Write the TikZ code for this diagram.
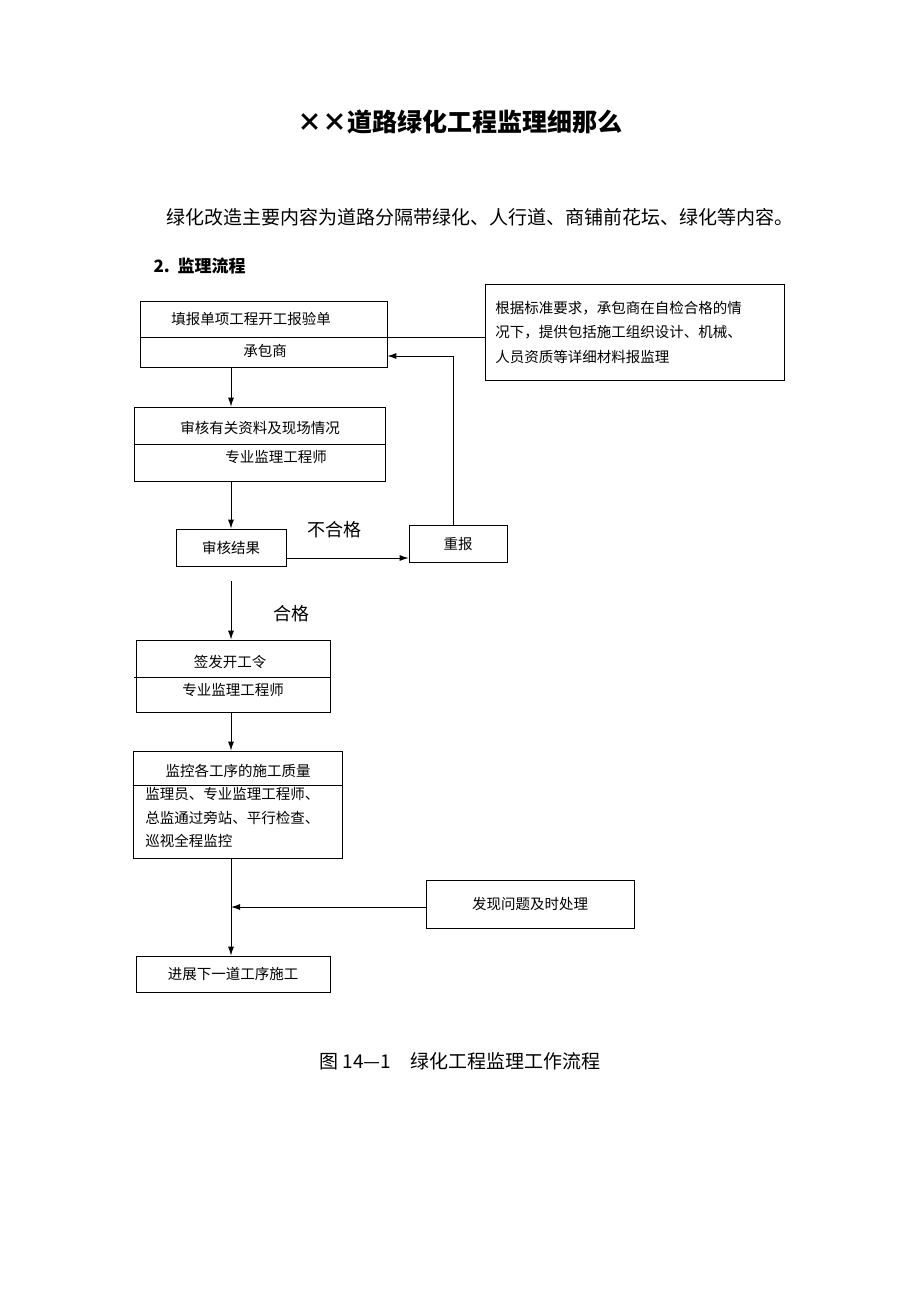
\documentclass[tikz,border=0pt]{standalone}
\usepackage{fontspec}
\setmainfont{Noto Sans CJK SC}
\usetikzlibrary{positioning,arrows.meta}
\tikzset{
  box/.style={draw, line width=0.8pt, inner sep=0pt, font=\fontsize{14.5}{17}\selectfont},
  flow/.style={-{Latex[length=9pt,width=6pt]}, line width=0.9pt},
  lbl/.style={font=\fontsize{18}{20}\selectfont}
}
\begin{document}
\begin{tikzpicture}[x=1pt,y=-1pt]
\useasboundingbox (0,0) rectangle (920,1302);
% heading and text
\node[font=\fontsize{25}{28}\selectfont\bfseries] (title) at (460,122) {××道路绿化工程监理细那么};
\node[anchor=west, font=\fontsize{19}{20}\selectfont] (intro) at (163,217) {绿化改造主要内容为道路分隔带绿化、人行道、商铺前花坛、绿化等内容。};
\node[anchor=west, font=\fontsize{17}{20}\selectfont\bfseries] (sec) at (150,266) {2.\ \ 监理流程};

% boxes
\node[box, minimum width=247pt, minimum height=66pt] (B1) at (263.5,334) {};
\node[box, draw=none] (B1t) at (251,319) {填报单项工程开工报验单};
\node[box, draw=none] (B1b) at (265,351) {承包商};
\node[box, minimum width=299pt, minimum height=96pt] (note) at (634.5,332) {};
\node[box, draw=none, anchor=west, align=left, font=\fontsize{14.5}{24.5}\selectfont] (notet) at (495,332) {根据标准要求，承包商在自检合格的情\\况下，提供包括施工组织设计、机械、\\人员资质等详细材料报监理};
\node[box, minimum width=251pt, minimum height=74pt] (B2) at (259.5,444) {};
\node[box, draw=none] (B2t) at (260,428) {审核有关资料及现场情况};
\node[box, draw=none] (B2b) at (276,457) {专业监理工程师};
\node[box, minimum width=110pt, minimum height=37pt] (B3) at (231,547.5) {审核结果};
\node[box, minimum width=98pt, minimum height=37pt] (R) at (458,543.5) {重报};
\node[box, minimum width=194pt, minimum height=72pt] (B4) at (233,676) {};
\node[box, draw=none] (B4t) at (230,662) {签发开工令};
\node[box, draw=none] (B4b) at (233,690) {专业监理工程师};
\node[box, minimum width=209pt, minimum height=107pt] (B5) at (237.5,804.5) {};
\node[box, draw=none] (B5t) at (238,771) {监控各工序的施工质量};
\node[box, draw=none, anchor=north west, align=left, font=\fontsize{14.5}{23.5}\selectfont] (B5b) at (145,787) {监理员、专业监理工程师、\\总监通过旁站、平行检查、\\巡视全程监控};
\node[box, minimum width=208pt, minimum height=48pt] (P) at (530,904) {发现问题及时处理};
\node[box, minimum width=194pt, minimum height=36pt] (B7) at (233,974) {进展下一道工序施工};

% dividers
\draw[line width=0.8pt] (B1.west |- 0,337) -- (note.west |- 0,337);
\draw[line width=0.8pt] (B2.west |- 0,444) -- (B2.east |- 0,444);
\draw[line width=0.8pt] (134,677) -- (B4.east |- 0,677);
\draw[line width=0.8pt] (B5.west |- 0,785) -- (B5.east |- 0,785);

% connectors
\coordinate (a1) at (231,581);
\coordinate (a2) at (231,907);
\coordinate (rb) at (453,356);
\draw[flow] (B1.south -| 231,0) -- (B2.north -| 231,0);
\draw[flow] (B2.south -| 231,0) -- (B3.north -| 231,0);
\draw[flow] (B3.east |- 0,558) -- (R.west |- 0,558);
\draw[flow] (R.north -| rb) -- (rb) -- (B1.east |- rb);
\draw[flow] (a1) -- (B4.north -| a1);
\draw[flow] (B4.south -| 231,0) -- (B5.north -| 231,0);
\draw[flow] (B5.south -| 231,0) -- (B7.north -| 231,0);
\draw[flow] (P.west |- a2) -- (a2);
\node[lbl] (ng) at (334,530) {不合格};
\node[lbl] (ok) at (291,614) {合格};

% caption
\node[font=\fontsize{19}{20}\selectfont] (cap) at (460,1061) {图 14—1\quad 绿化工程监理工作流程};
\end{tikzpicture}
\end{document}
